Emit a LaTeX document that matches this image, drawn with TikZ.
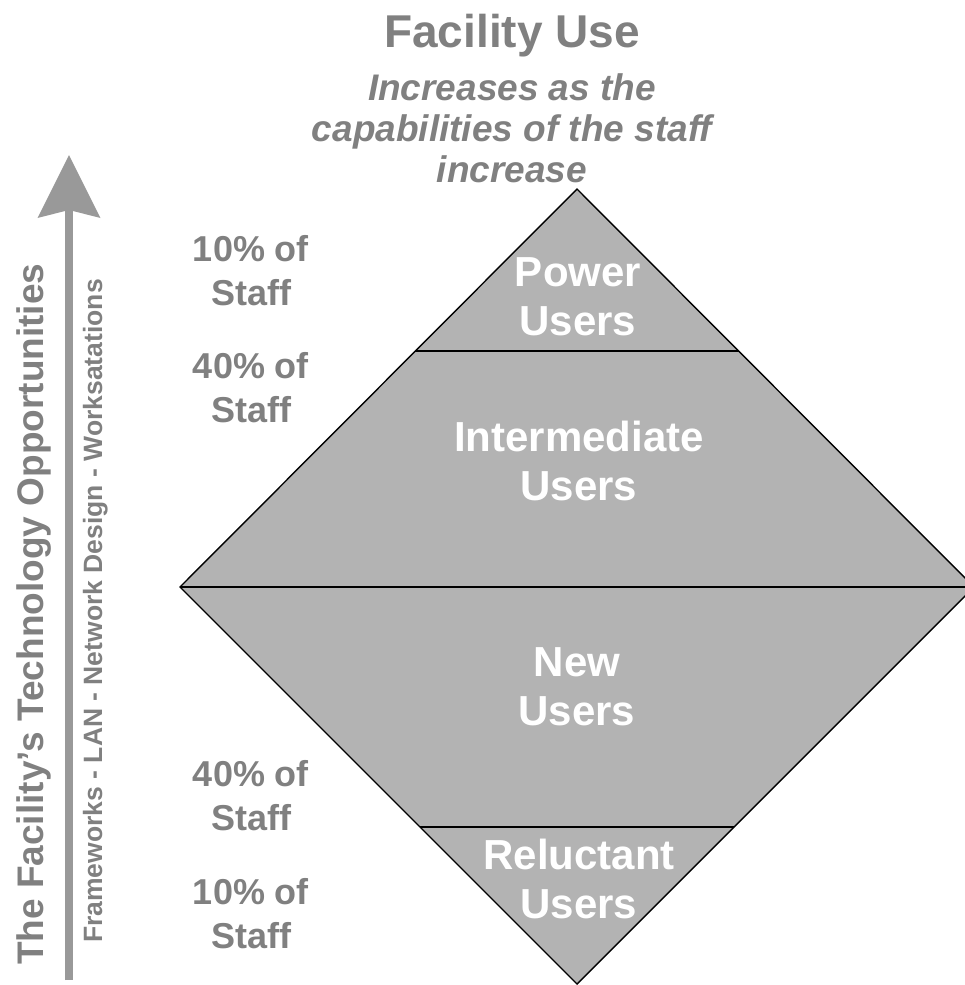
\documentclass[tikz,border=0pt]{standalone}
\usepackage{fontspec}
\setmainfont{Liberation Sans}
\usetikzlibrary{arrows.meta,calc}
\definecolor{tierfill}{HTML}{B3B3B3}
\definecolor{labelgray}{HTML}{808080}
\definecolor{arrowgray}{HTML}{999999}
\begin{document}
\begin{tikzpicture}[x=1pt,y=1pt,
  % multi-line nodes: the base anchor sits on the last line's baseline
  tiertext/.style={text=white, font=\bfseries\fontsize{42}{49}\selectfont,
    align=center, inner sep=0pt, anchor=base},
  sharetext/.style={text=labelgray, font=\bfseries\fontsize{36}{44}\selectfont,
    align=center, inner sep=0pt, anchor=base},
  headtext/.style={text=labelgray, align=center, inner sep=0pt, anchor=base},
  edge/.style={draw=black, line width=1.4pt, line join=miter}
]
\useasboundingbox (0,0) rectangle (965,-985);

% corners of the diamond
\coordinate (top) at (577,-189);
\coordinate (left) at (180,-587);
\coordinate (right) at (974,-587);
\coordinate (bottom) at (577,-984);

% tier boundaries
\coordinate (pl) at ($(top)!0.407!(left)$);
\coordinate (pr) at ($(top)!0.407!(right)$);
\coordinate (rl) at ($(bottom)!0.3955!(left)$);
\coordinate (rr) at ($(bottom)!0.3955!(right)$);

\fill[tierfill] (top) -- (right) -- (bottom) -- (left) -- cycle;
\draw[edge] (pl) -- (pr);
\draw[edge] (left) -- (right);
\draw[edge] (rl) -- (rr);
\draw[edge] (top) -- (right) -- (bottom) -- (left) -- cycle;

% tier labels
\node[tiertext] (power) at (578,-335) {Power\\Users};
\node[tiertext] (intermediate) at (579,-500) {Intermediate\\Users};
\node[tiertext] (new) at (577,-725) {New\\Users};
\node[tiertext] (reluctant) at (579,-918) {Reluctant\\Users};

% share of staff
\node[sharetext] (share1) at (251,-305) {10\% of\\Staff};
\node[sharetext] (share2) at (251,-422) {40\% of\\Staff};
\node[sharetext] (share3) at (251,-830) {40\% of\\Staff};
\node[sharetext] (share4) at (251,-948) {10\% of\\Staff};

% heading
\node[headtext, font=\bfseries\fontsize{46}{52}\selectfont] (title) at (512,-47) {Facility Use};
\node[headtext, font=\bfseries\itshape\fontsize{37}{41}\selectfont] (subtitle) at (512,-182)
  {Increases as the\\capabilities of the staff\\increase};

% vertical axis
\coordinate (arrowtail) at (69,-980);
\coordinate (arrowtip) at (69,-155);
\draw[arrowgray, line width=8pt,
  -{Stealth[length=63pt, width=63pt, inset=8pt, line width=0pt]}] (arrowtail) -- (arrowtip);
\node[rotate=90, anchor=base west, inner sep=0pt, text=labelgray,
  font=\bfseries\fontsize{37}{44}\selectfont] (axis) at (43,-965)
  {The Facility's Technology Opportunities};
\node[rotate=90, anchor=base west, inner sep=0pt, text=labelgray,
  font=\bfseries\fontsize{26.5}{32}\selectfont] (layers) at (102,-943)
  {Frameworks - LAN - Network Design - Worksatations};
\end{tikzpicture}
\end{document}
